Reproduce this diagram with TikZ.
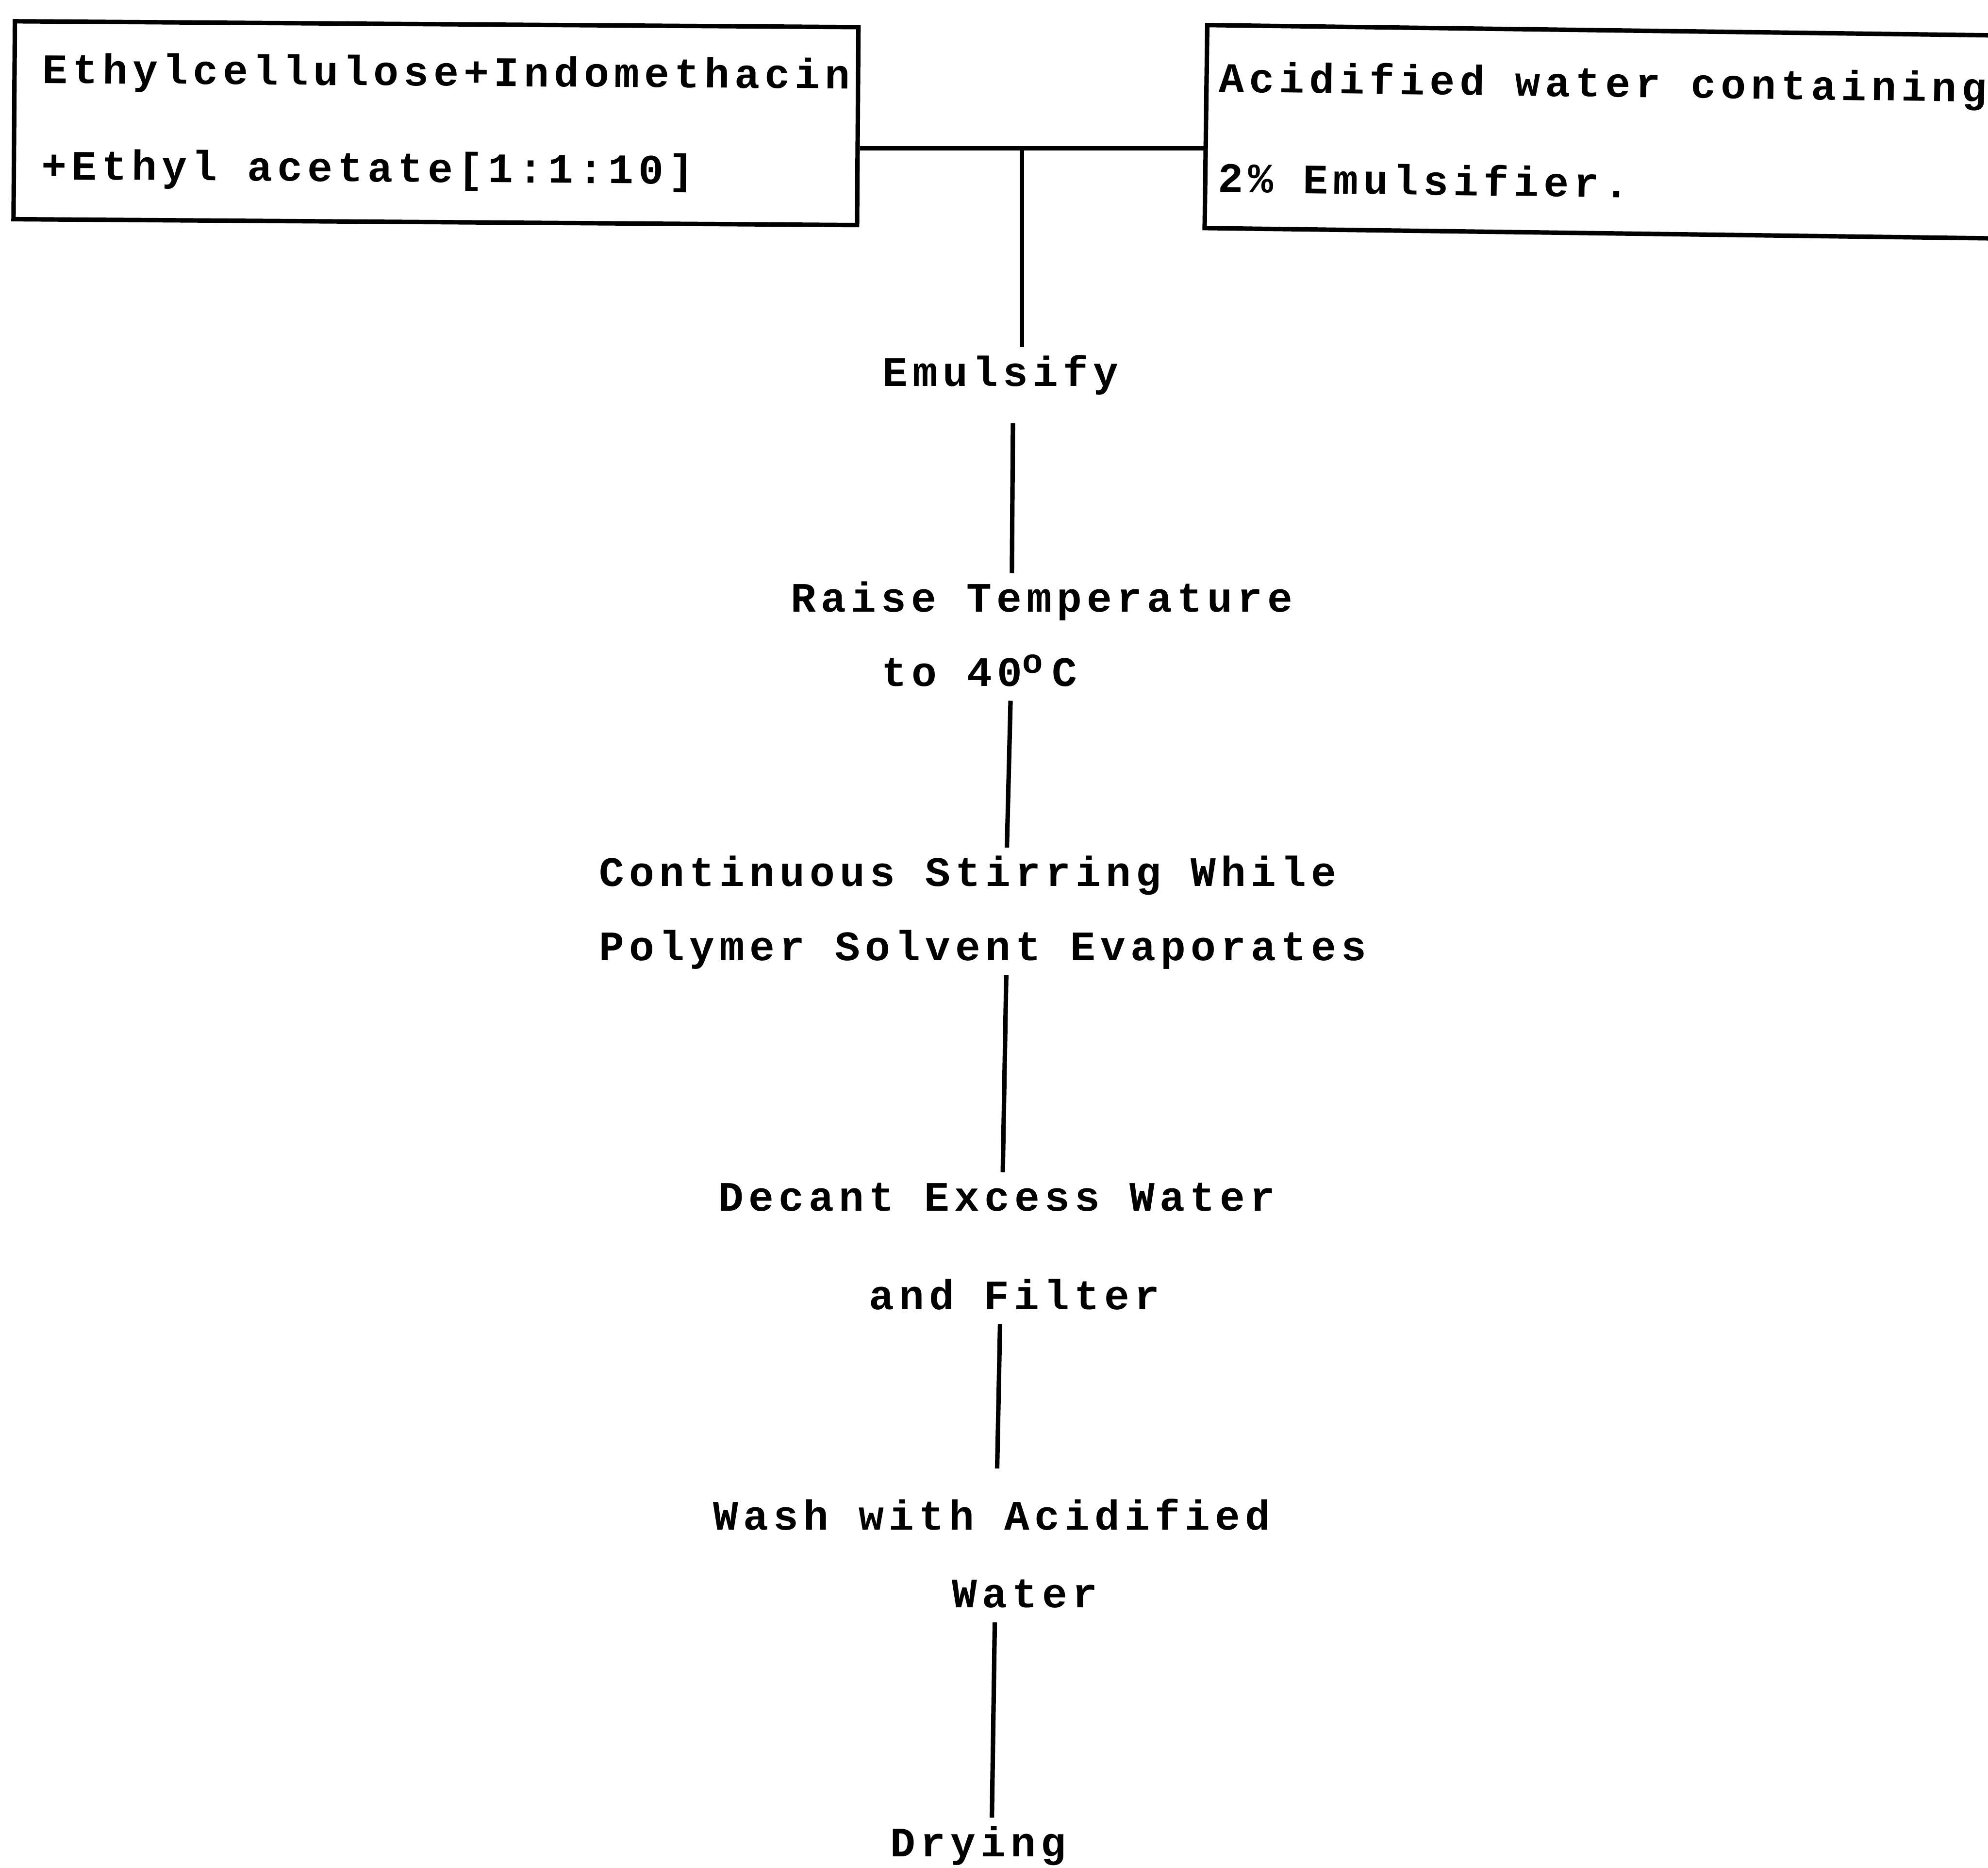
\documentclass[tikz,border=0pt]{standalone}
\usepackage{fontspec}
\newfontfamily\tw[LetterSpace=11.8]{Liberation Mono}
\newlength\pitch
\setlength\pitch{0.236cm}
% raised small o, one typewriter slot wide
\newcommand{\degO}{\makebox[\pitch][l]{\raisebox{2.9pt}{\fontsize{7.7}{8}\selectfont o}}}

\begin{document}
\begin{tikzpicture}[x=0.01cm,y=-0.01cm,
    every node/.style={font=\tw\bfseries\fontsize{9.4}{21.6}\selectfont},
    stepnode/.style={inner sep=0pt,anchor=base west,text height=8.5pt,text depth=3.1pt},
    inbox/.style={draw,line width=1pt,anchor=north west,align=left,inner ysep=0pt},
    flow/.style={line width=1pt}]
    \useasboundingbox (0,0) rectangle (1568,1473);

    % the two starting mixtures
    \node[inbox,rotate=-0.4,text width=6.21cm,inner xsep=0.22cm,minimum height=1.56cm]
        (ecbox) at (10,15) {\spaceskip=0pt\relax Ethylcellulose+Indomethacin\\+Ethyl acetate[1:1:10]};
    \node[inbox,rotate=-0.75,text width=6.5cm,inner xsep=0.1cm,minimum height=1.6cm]
        (awbox) at (950.5,18) {\spaceskip=0pt\relax Acidified water containing\\[0.9pt]2\% Emulsifier.};
    \coordinate (tee) at (806,117);

    % steps
    \node[stepnode] (emul)  at (695.6,304.4) {Emulsify};
    \node[stepnode] (temp)  at (623,482.6)   {Raise Temperature};
    \node[stepnode] (temp2) at (694.7,541)   {to 40\degO C};
    \node[stepnode] (stir)  at (471.8,699)   {Continuous Stirring While};
    \node[stepnode] (stir2) at (471.8,757.5) {Polymer Solvent Evaporates};
    \node[stepnode] (dec)   at (566,955)     {Decant Excess Water};
    \node[stepnode] (dec2)  at (684.6,1032.5){and Filter};
    \node[stepnode] (wash)  at (562,1206.6)  {Wash with Acidified};
    \node[stepnode] (wash2) at (750,1267.8)  {Water};
    \node[stepnode] (dry)   at (701.5,1464)  {Drying};

    % connectors
    \draw[flow] (ecbox.east |- tee) -- (awbox.west |- tee);
    \draw[flow] (tee) -- (emul.north -| tee);
    \draw[flow,shorten <=0.177cm] ([xshift=1.034cm]emul.south west) -- ([xshift=1.75cm]temp.north west);
    \draw[flow] ([xshift=1.023cm]temp2.south west) -- ([xshift=3.222cm]stir.north west);
    \draw[flow] ([xshift=3.217cm]stir2.south west) -- ([xshift=2.248cm]dec.north west);
    \draw[flow,shorten >=0.18cm] ([xshift=1.041cm]dec2.south west) -- ([xshift=2.24cm]wash.north west);
    \draw[flow] ([xshift=0.346cm]wash2.south west) -- ([xshift=0.808cm]dry.north west);
\end{tikzpicture}
\end{document}
